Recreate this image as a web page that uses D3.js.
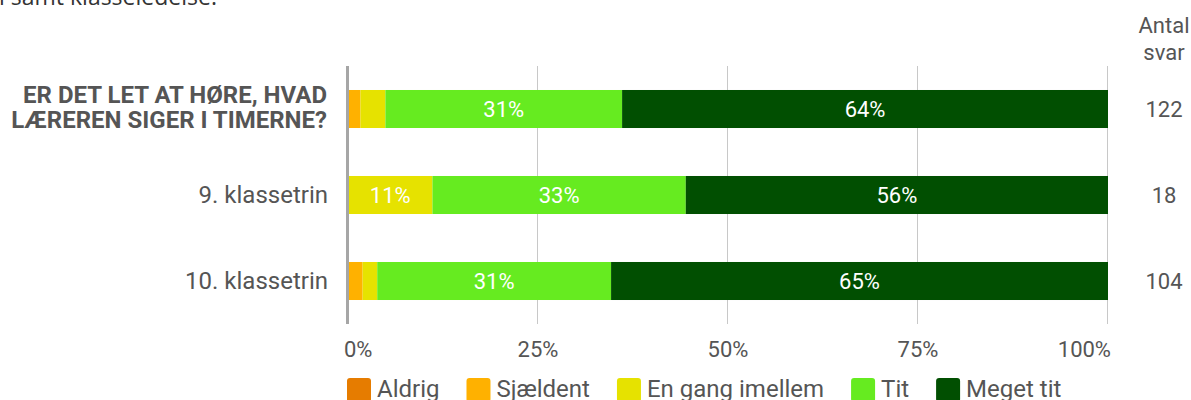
<!DOCTYPE html>
<html>
<head>
<meta charset="utf-8">
<script src="https://cdn.jsdelivr.net/npm/d3@7"></script>
<style>
  html, body { margin: 0; padding: 0; background: #fff; }
  svg { display: block; font-family: Roboto, sans-serif; }
</style>
</head>
<body>
<div id="app"></div>
<script>
//#region 1. Data
const categories = ["total", "9. klassetrin", "10. klassetrin"]
const totalLabel = ["ER DET LET AT HØRE, HVAD", "LÆREREN SIGER I TIMERNE?"]
const seriesNames = ["Aldrig", "Sjældent", "En gang imellem", "Tit", "Meget tit"]
const seriesColors = ["#e67c00", "#ffb100", "#e6e200", "#66eb20", "#014f01"]

// answer counts per category
const aldrig = [0, 0, 0]
const sjaeldent = [2, 0, 2]
const enGang = [4, 2, 2]
const tit = [38, 6, 32]
const megetTit = [78, 10, 68]
const antalSvar = [122, 18, 104]

const tickValues = [0, 0.25, 0.5, 0.75, 1]
//#endregion

//#region 2. Dimensions
const width = 1191
const height = 400
const dims = {
  left: 348,
  right: 1108,
  top: 66,
  bottom: 324,
}
const textColor = "#555"
//#endregion

//#region 3. Canvas
const svg = d3.select("#app")
  .append("svg")
    .attr("width", width)
    .attr("height", height)

// title line, cut off at the top
svg.append("text")
    .attr("x", -1)
    .attr("y", 5)
    .attr("fill", "#333")
    .style("font-family", "'Open Sans', sans-serif")
    .style("font-size", "23px")
    .text("l samt klasseledelse.")
//#endregion

//#region 4. Scales
const seriesCounts = [aldrig, sjaeldent, enGang, tit, megetTit]
const rows = categories.map((c, i) => {
  const row = { category: c }
  seriesNames.forEach((s, j) => row[s] = seriesCounts[j][i] / antalSvar[i])
  return row
})
const stacked = d3.stack().keys(seriesNames)(rows)

const xScale = d3.scaleLinear()
  .domain([0, 1])
  .range([dims.left, dims.right])

const yScale = d3.scaleBand()
  .domain(categories)
  .range([dims.top, dims.bottom])
  .paddingInner(0.558)
  .paddingOuter(0.279)

const color = d3.scaleOrdinal()
  .domain(seriesNames)
  .range(seriesColors)
//#endregion

//#region 5. Grid
svg.append("g")
  .selectAll("line")
  .data(tickValues.slice(1))
  .join("line")
    .attr("x1", d => Math.round(xScale(d)) - 0.5)
    .attr("x2", d => Math.round(xScale(d)) - 0.5)
    .attr("y1", dims.top)
    .attr("y2", dims.bottom)
    .attr("stroke", "#c8c8c8")
    .attr("stroke-width", 1)
//#endregion

//#region 6. Bars
const layers = svg.append("g")
  .selectAll("g")
  .data(stacked)
  .join("g")
    .attr("fill", d => color(d.key))

layers.selectAll("rect")
  .data(d => d)
  .join("rect")
    .attr("x", d => xScale(d[0]))
    .attr("y", d => yScale(d.data.category))
    .attr("width", d => xScale(d[1]) - xScale(d[0]))
    .attr("height", yScale.bandwidth())

layers.selectAll("text")
  .data(d => d.filter(v => v[1] - v[0] >= 0.1))
  .join("text")
    .attr("x", d => (xScale(d[0]) + xScale(d[1])) / 2)
    .attr("y", d => yScale(d.data.category) + yScale.bandwidth() / 2 + 8)
    .attr("text-anchor", "middle")
    .attr("fill", "#fff")
    .style("font-size", "22px")
    .text(d => d3.format(".0%")(d[1] - d[0]))

// zero axis line on top of the bars
svg.append("line")
    .attr("x1", xScale(0) - 0.5)
    .attr("x2", xScale(0) - 0.5)
    .attr("y1", dims.top)
    .attr("y2", dims.bottom)
    .attr("stroke", "#a6a6a6")
    .attr("stroke-width", 3)
//#endregion

//#region 7. Labels
svg.append("g")
  .selectAll("text")
  .data(categories.filter(d => d != "total"))
  .join("text")
    .attr("x", 328)
    .attr("y", d => yScale(d) + yScale.bandwidth() / 2 + 8)
    .attr("text-anchor", "end")
    .attr("fill", textColor)
    .style("font-size", "24px")
    .text(d => d)

const boldLabel = svg.append("text")
    .attr("x", 327)
    .attr("y", yScale("total") + yScale.bandwidth() / 2 - 6)
    .attr("text-anchor", "end")
    .attr("fill", textColor)
    .style("font-size", "24px")
    .style("font-weight", "700")
boldLabel.selectAll("tspan")
  .data(totalLabel)
  .join("tspan")
    .attr("x", 327)
    .attr("dy", (d, i) => i ? 25 : 0)
    .text(d => d)

// antal svar column
const colX = 1164
svg.append("text")
    .attr("x", colX)
    .attr("y", 33)
    .attr("text-anchor", "middle")
    .attr("fill", textColor)
    .style("font-size", "22px")
    .text("Antal")
svg.append("text")
    .attr("x", colX)
    .attr("y", 60)
    .attr("text-anchor", "middle")
    .attr("fill", textColor)
    .style("font-size", "22px")
    .text("svar")

svg.append("g")
  .selectAll("text")
  .data(categories)
  .join("text")
    .attr("x", colX)
    .attr("y", d => yScale(d) + yScale.bandwidth() / 2 + 8)
    .attr("text-anchor", "middle")
    .attr("fill", textColor)
    .style("font-size", "22px")
    .text((d, i) => antalSvar[i])

// x tick labels, kept inside the plot at the ends
svg.append("g")
  .selectAll("text")
  .data(tickValues)
  .join("text")
    .attr("x", (d, i) => i == 0 ? xScale(d) - 4 : i == tickValues.length - 1 ? xScale(d) + 3 : xScale(d))
    .attr("y", 357)
    .attr("text-anchor", (d, i) => i == 0 ? "start" : i == tickValues.length - 1 ? "end" : "middle")
    .attr("fill", textColor)
    .style("font-size", "22px")
    .text(d => d3.format(".0%")(d))
//#endregion

//#region 8. Legend
const legend = svg.append("g")
let lx = 347
seriesNames.forEach(name => {
  const item = legend.append("g")
  item.append("rect")
      .attr("x", lx)
      .attr("y", 378)
      .attr("width", 24)
      .attr("height", 24)
      .attr("rx", 3)
      .attr("fill", color(name))
  const label = item.append("text")
      .attr("x", lx + 30)
      .attr("y", 397)
      .attr("fill", textColor)
      .style("font-size", "24px")
      .text(name)
  lx += 30 + label.node().getComputedTextLength() + 27
})
//#endregion
</script>
</body>
</html>
